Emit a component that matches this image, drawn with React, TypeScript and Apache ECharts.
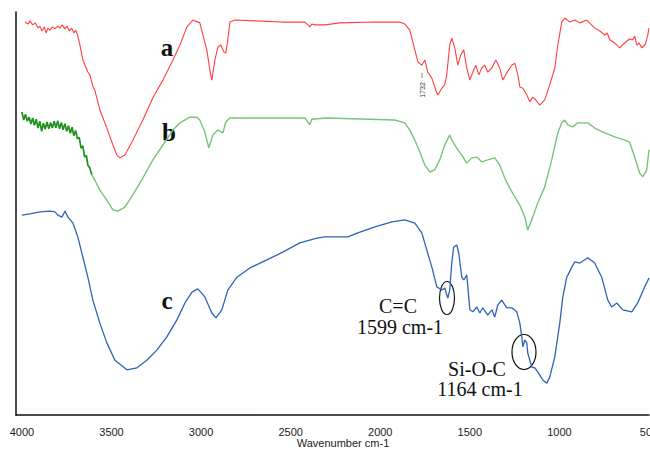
import React, { useEffect, useRef } from "react";
import * as echarts from "echarts";

// Wavenumber tick labels (cm-1)
const xTicks = [4000, 3500, 3000, 2500, 2000, 1500, 1000, 500];

// Spectrum a (red): [wavenumber, transmittance (offset, a.u.)]
const specA: number[][] = [
  [3983, 97.5], [3965, 97.0], [3955, 97.8], [3940, 96.8], [3925, 97.3], [3910, 96.0], [3900, 96.5],
  [3888, 95.3], [3875, 96.3], [3865, 94.8], [3855, 96.0], [3844, 95.5], [3830, 96.3], [3816, 95.8],
  [3800, 96.5], [3788, 96.0], [3775, 96.8], [3760, 95.8], [3748, 96.5], [3735, 95.3], [3722, 96.0],
  [3710, 94.8], [3700, 95.5], [3690, 94.3], [3676, 91.8], [3660, 88.1], [3648, 86.8], [3632, 85.1],
  [3621, 84.4], [3604, 81.6], [3593, 80.6], [3565, 75.7], [3526, 71.2], [3492, 67.0], [3470, 64.5],
  [3453, 63.8], [3425, 64.5], [3381, 68.2], [3325, 73.2], [3269, 78.7], [3213, 83.1], [3157, 88.1],
  [3118, 91.8], [3079, 96.3], [3046, 98.0], [3007, 97.3], [2990, 94.3], [2968, 90.6], [2951, 85.6],
  [2940, 83.1], [2923, 88.1], [2906, 91.3], [2890, 91.8], [2873, 90.1], [2862, 89.8], [2851, 93.1],
  [2839, 97.5], [2811, 98.0], [2700, 97.8], [2550, 97.5], [2420, 97.5], [2393, 96.3], [2382, 97.0],
  [2365, 96.8], [2309, 96.8], [2226, 97.3], [2030, 97.5], [1891, 97.5], [1863, 97.0], [1835, 95.5],
  [1807, 90.6], [1790, 87.6], [1768, 86.8], [1751, 88.1], [1735, 85.1], [1712, 83.6], [1690, 80.6],
  [1679, 79.4], [1656, 81.1], [1640, 81.9], [1629, 84.4], [1612, 91.8], [1601, 93.5], [1584, 91.1],
  [1567, 86.8], [1551, 89.3], [1534, 90.6], [1517, 86.1], [1500, 83.1], [1483, 85.1], [1467, 86.8],
  [1450, 84.4], [1433, 86.1], [1417, 86.8], [1400, 85.1], [1377, 86.1], [1355, 88.1], [1333, 86.1],
  [1316, 83.1], [1294, 84.9], [1266, 86.8], [1249, 87.3], [1232, 84.4], [1221, 81.4], [1204, 81.1],
  [1182, 79.4], [1165, 77.7], [1149, 78.9], [1132, 78.2], [1110, 76.9], [1082, 78.2], [1054, 81.9],
  [1026, 86.1], [1009, 91.8], [987, 97.5], [970, 98.5], [942, 97.5], [914, 98.0], [886, 97.3],
  [847, 98.0], [803, 96.0], [775, 95.3], [747, 94.3], [733, 94.8], [719, 93.1], [691, 92.3],
  [663, 91.1], [650, 91.8], [635, 92.3], [610, 93.3], [591, 93.1], [580, 94.0], [568, 91.8],
  [555, 92.3], [540, 91.1], [520, 92.0], [507, 94.3], [500, 96.0],
];

// Spectrum b (green), noisy high-wavenumber part
const specBNoisy: number[][] = [
  [4000, 75.2], [3990, 73.2], [3980, 74.6], [3970, 72.9], [3960, 73.9], [3950, 72.2], [3940, 73.7],
  [3930, 71.9], [3920, 73.4], [3910, 71.2], [3900, 72.9], [3890, 70.4], [3880, 72.4], [3870, 70.9],
  [3860, 72.7], [3850, 71.0], [3840, 72.6], [3830, 71.2], [3820, 72.9], [3810, 71.3], [3800, 73.0],
  [3790, 71.0], [3780, 72.6], [3770, 70.8], [3760, 72.3], [3750, 70.4], [3740, 71.8], [3730, 69.9],
  [3720, 71.4], [3710, 69.3], [3700, 70.6], [3690, 68.5], [3680, 68.9], [3670, 66.2], [3660, 66.8],
  [3650, 64.0], [3640, 64.4], [3632, 62.0], [3621, 61.3], [3610, 59.6],
];

// Spectrum b (green), rest
const specB: number[][] = [
  [3610, 59.6], [3593, 58.3], [3565, 55.8], [3526, 53.3], [3492, 50.9], [3464, 50.6], [3425, 51.6],
  [3381, 54.6], [3325, 58.8], [3269, 63.3], [3213, 67.0], [3157, 70.7], [3118, 72.5], [3063, 73.9],
  [3024, 73.9], [3007, 73.2], [2979, 70.2], [2957, 66.3], [2934, 69.5], [2906, 70.7], [2878, 70.0],
  [2862, 72.7], [2839, 73.7], [2700, 73.7], [2420, 73.7], [2393, 72.0], [2382, 73.4], [2300, 73.7],
  [1919, 73.2], [1863, 72.5], [1835, 70.7], [1807, 68.2], [1779, 65.3], [1751, 62.0], [1723, 60.3],
  [1696, 60.8], [1668, 63.3], [1640, 67.0], [1612, 69.5], [1601, 68.2], [1584, 67.0], [1567, 65.8],
  [1545, 64.5], [1517, 62.5], [1489, 63.8], [1461, 64.0], [1433, 62.8], [1400, 63.3], [1361, 63.8],
  [1333, 62.0], [1305, 58.8], [1277, 56.3], [1249, 54.1], [1221, 52.1], [1193, 49.1], [1177, 45.9],
  [1149, 49.1], [1121, 52.6], [1082, 56.6], [1043, 63.3], [1009, 70.0], [987, 72.5], [970, 73.2],
  [953, 72.0], [925, 71.5], [898, 72.5], [842, 72.5], [803, 71.2], [747, 70.0], [691, 69.0],
  [635, 68.2], [608, 67.7], [580, 64.0], [552, 60.0], [535, 59.1], [513, 60.8], [500, 65.8],
];

// Spectrum c (blue)
const specC: number[][] = [
  [4000, 49.6], [3955, 49.9], [3900, 50.4], [3844, 50.6], [3816, 50.4], [3799, 49.6], [3777, 49.1],
  [3765, 50.1], [3760, 50.6], [3743, 49.1], [3715, 47.6], [3688, 44.2], [3660, 39.2], [3632, 34.2],
  [3604, 28.5], [3565, 22.8], [3526, 17.9], [3481, 13.6], [3414, 11.2], [3358, 11.7], [3303, 13.6],
  [3247, 16.1], [3191, 19.4], [3135, 23.6], [3090, 27.8], [3051, 30.5], [3018, 31.3], [2979, 29.3],
  [2940, 25.3], [2917, 24.1], [2884, 26.1], [2851, 31.0], [2800, 34.2], [2728, 36.5], [2633, 38.5],
  [2544, 40.4], [2449, 42.7], [2354, 43.9], [2309, 44.2], [2181, 44.2], [2125, 45.2], [2030, 46.7],
  [1935, 47.9], [1863, 48.4], [1807, 47.6], [1768, 45.2], [1740, 40.9], [1712, 36.7], [1684, 31.8],
  [1656, 31.0], [1640, 31.5], [1623, 29.0], [1612, 31.0], [1601, 37.7], [1590, 41.7], [1573, 42.2],
  [1562, 40.2], [1545, 34.2], [1534, 33.5], [1517, 34.7], [1511, 31.8], [1500, 26.1], [1483, 25.6],
  [1461, 26.8], [1444, 25.3], [1428, 26.6], [1400, 24.8], [1377, 26.1], [1361, 24.3], [1344, 27.3],
  [1322, 28.5], [1294, 26.6], [1266, 26.6], [1238, 25.6], [1221, 22.8], [1210, 19.4], [1204, 16.9],
  [1193, 18.6], [1182, 17.9], [1177, 15.4], [1154, 11.9], [1137, 11.7], [1121, 10.7], [1093, 8.7],
  [1071, 7.9], [1054, 9.4], [1026, 14.4], [998, 22.8], [981, 29.3], [959, 34.2], [931, 36.7],
  [914, 38.0], [886, 37.7], [842, 39.0], [803, 37.7], [764, 34.2], [730, 28.5], [708, 26.8],
  [680, 27.8], [646, 26.1], [596, 25.6], [563, 27.8], [524, 31.8], [500, 34.0],
];

export default function App() {
  const ref = useRef<HTMLDivElement>(null);
  useEffect(() => {
    if (!ref.current) return;
    const chart = echarts.init(ref.current, null, { renderer: "svg" });
    const lineSeries = (data: number[][], color: string, width = 1.1) => ({
      type: "line",
      data,
      showSymbol: false,
      symbol: "none",
      lineStyle: { color, width },
      silent: true,
      clip: true,
    });
    const serif = "'Liberation Serif', 'Times New Roman', serif";
    chart.setOption({
      animation: false,
      backgroundColor: "#ffffff",
      grid: { left: 16, right: 1, top: 12, bottom: 36, containLabel: false, outerBoundsMode: "none" },
      xAxis: {
        type: "value",
        min: 500,
        max: 4033,
        inverse: true,
        axisLine: { show: true, onZero: false, lineStyle: { color: "#111", width: 1.5 } },
        axisTick: { show: false },
        splitLine: { show: false },
        axisLabel: {
          customValues: xTicks,
          margin: 11,
          fontSize: 11,
          color: "#222",
          fontFamily: "'Liberation Sans', Arial, sans-serif",
          formatter: (v: number) => String(v),
          hideOverlap: false,
        },
      },
      yAxis: {
        type: "value",
        min: 0,
        max: 100,
        axisLine: { show: true, lineStyle: { color: "#111", width: 1.5 } },
        axisTick: { show: false },
        axisLabel: { show: false },
        splitLine: { show: false },
      },
      series: [
        lineSeries(specA, "#ff4040", 1.1),
        lineSeries(specB, "#78c478", 1.4),
        lineSeries(specBNoisy, "#1f921f", 1.7),
        lineSeries(specC, "#3063b6", 1.3),
      ],
      graphic: [
        { type: "text", x: 167, y: 47, style: { text: "a", font: `bold 25px ${serif}`, fill: "#111", align: "center", verticalAlign: "middle" } },
        { type: "text", x: 169, y: 132, style: { text: "b", font: `bold 25px ${serif}`, fill: "#111", align: "center", verticalAlign: "middle" } },
        { type: "text", x: 167, y: 300, style: { text: "c", font: `bold 25px ${serif}`, fill: "#111", align: "center", verticalAlign: "middle" } },
        { type: "text", x: 398, y: 306, style: { text: "C=C", font: `20px ${serif}`, fill: "#111", align: "center", verticalAlign: "middle" } },
        { type: "text", x: 400, y: 327, style: { text: "1599 cm-1", font: `20px ${serif}`, fill: "#111", align: "center", verticalAlign: "middle" } },
        { type: "text", x: 477, y: 369, style: { text: "Si-O-C", font: `20px ${serif}`, fill: "#111", align: "center", verticalAlign: "middle" } },
        { type: "text", x: 480, y: 389, style: { text: "1164 cm-1", font: `20px ${serif}`, fill: "#111", align: "center", verticalAlign: "middle" } },
        { type: "ellipse", shape: { cx: 447, cy: 298, rx: 7.5, ry: 16.5 }, style: { fill: "none", stroke: "#111", lineWidth: 1.2 } },
        { type: "ellipse", shape: { cx: 524, cy: 352, rx: 12, ry: 17.5 }, style: { fill: "none", stroke: "#111", lineWidth: 1.2 } },
        { type: "text", x: 422, y: 90, rotation: Math.PI / 2, style: { text: "1732", font: "7px 'Liberation Sans', Arial, sans-serif", fill: "#333", align: "center", verticalAlign: "middle" } },
        { type: "line", shape: { x1: 422, y1: 73, x2: 422, y2: 78 }, style: { stroke: "#666", lineWidth: 0.8 } },
        { type: "text", x: 343, y: 443, style: { text: "Wavenumber cm-1", font: "11px 'Liberation Sans', Arial, sans-serif", fill: "#222", align: "center", verticalAlign: "middle" } },
      ],
    });
    return () => chart.dispose();
  }, []);
  return <div ref={ref} style={{ position: "absolute", left: 0, top: 0, width: 650, height: 451 }} />;
}
